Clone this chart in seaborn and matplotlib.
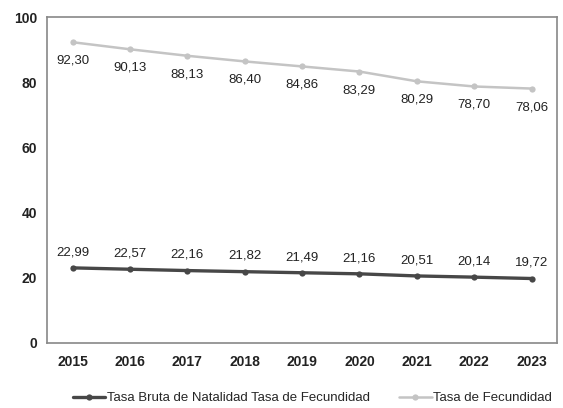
import matplotlib
matplotlib.use("Agg")
import matplotlib.pyplot as plt
import seaborn as sns
import pandas as pd

years = ["2015", "2016", "2017", "2018", "2019", "2020", "2021", "2022", "2023"]
natalidad = [22.99, 22.57, 22.16, 21.82, 21.49, 21.16, 20.51, 20.14, 19.72]
fecundidad = [92.30, 90.13, 88.13, 86.40, 84.86, 83.29, 80.29, 78.70, 78.06]

label_nat = "Tasa Bruta de Natalidad Tasa de Fecundidad"
label_fec = "Tasa de Fecundidad"


def fmt(v):
    return f"{v:.2f}".replace(".", ",")


def main():
    sns.set_theme(style="white")
    plt.rcParams['font.family'] = ['Liberation Sans Narrow', 'Liberation Sans', 'DejaVu Sans']

    df = pd.DataFrame({"year": years, label_nat: natalidad, label_fec: fecundidad})
    x = list(range(len(years)))

    fig, ax = plt.subplots(figsize=(5.63, 4.08), dpi=100)

    sns.lineplot(x=x, y=df[label_nat], ax=ax, color="#474747", linewidth=2.4,
                 marker="o", markersize=4.5, markeredgewidth=0, label=label_nat)
    sns.lineplot(x=x, y=df[label_fec], ax=ax, color="#c4c4c4", linewidth=1.8,
                 marker="o", markersize=4.5, markeredgewidth=0, label=label_fec)

    for i, v in enumerate(natalidad):
        ax.annotate(fmt(v), (i, v), xytext=(0, 7), textcoords="offset points",
                    ha="center", va="bottom", fontsize=9.5, color="#222222")
    for i, v in enumerate(fecundidad):
        ax.annotate(fmt(v), (i, v), xytext=(0, -9), textcoords="offset points",
                    ha="center", va="top", fontsize=9.5, color="#222222")

    ax.set_xlim(-0.45, len(years) - 0.55)
    ax.set_ylim(0, 100)
    ax.set_yticks([0, 20, 40, 60, 80, 100])
    ax.set_xticks(x)
    ax.set_xticklabels(years)
    ax.tick_params(axis="both", labelsize=10, length=0, labelcolor="#222222")
    ax.tick_params(axis="x", pad=9)
    ax.tick_params(axis="y", pad=7)
    for lab in ax.get_xticklabels() + ax.get_yticklabels():
        lab.set_fontweight("bold")
    ax.set_xlabel("")
    ax.set_ylabel("")

    for s in ax.spines.values():
        s.set_color("#888888")
        s.set_linewidth(1.2)

    ax.legend(loc="upper center", bbox_to_anchor=(0.52, -0.115), ncol=2, frameon=False,
              fontsize=9.5, handlelength=2.5, handletextpad=0.1, columnspacing=2.2)

    fig.subplots_adjust(left=0.083, right=0.99, top=0.958, bottom=0.16)
    plt.savefig("out.png")


if __name__ == "__main__":
    main()
